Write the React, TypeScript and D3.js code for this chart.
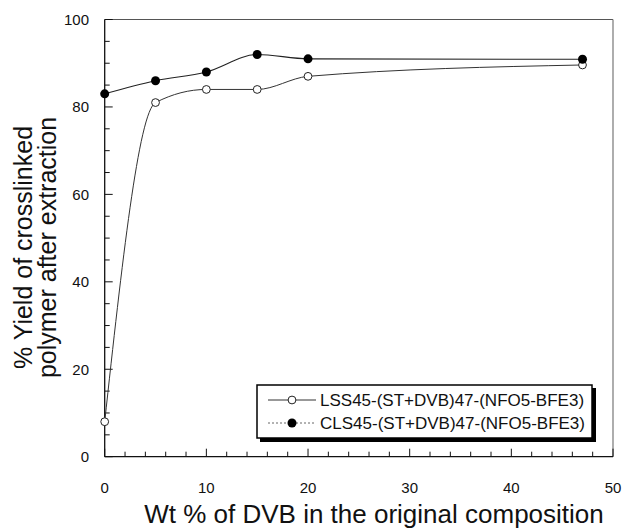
import React from "react";
import * as d3 from "d3";

const xLSS = [0, 5, 10, 15, 20, 47];
const yLSS = [8, 81, 84, 84, 87, 89.6];
const xCLS = [0, 5, 10, 15, 20, 47];
const yCLS = [83, 86, 88, 92, 91, 90.9];
const xTickLabels = [0, 10, 20, 30, 40, 50];
const yTickLabels = [0, 20, 40, 60, 80, 100];
const seriesNames = ["LSS45-(ST+DVB)47-(NFO5-BFE3)", "CLS45-(ST+DVB)47-(NFO5-BFE3)"];

const W = 624, H = 531;
const L = 104.7, R = 613, T = 19.5, B = 456.7;
const FONT = "'Liberation Sans', Arial, Helvetica, sans-serif";

export default function App() {
  const x = d3.scaleLinear().domain([0, 50]).range([L, R]);
  const y = d3.scaleLinear().domain([0, 100]).range([B, T]);
  const line = d3
    .line<[number, number]>()
    .x((d) => x(d[0]))
    .y((d) => y(d[1]))
    .curve(d3.curveMonotoneX);
  const lss: [number, number][] = xLSS.map((v, i) => [v, yLSS[i]]);
  const cls: [number, number][] = xCLS.map((v, i) => [v, yCLS[i]]);
  const xMinor = d3.range(0, 51, 2);
  const yMinor = d3.range(0, 101, 5);

  return (
    <svg
      width={W}
      height={H}
      style={{ position: "fixed", left: 0, top: 0, background: "#fff" }}
      fontFamily={FONT}
    >
      <rect x={0} y={0} width={W} height={H} fill="#fff" />
      {/* frame */}
      <line x1={L} x2={R} y1={T} y2={T} stroke="#555" strokeWidth={1} />
      <line x1={R} x2={R} y1={T} y2={B} stroke="#777" strokeWidth={1.2} />
      <line x1={L} x2={L} y1={T} y2={B} stroke="#111" strokeWidth={1.3} />
      <line x1={L} x2={R} y1={B} y2={B} stroke="#111" strokeWidth={1.3} />
      {/* x ticks */}
      {xMinor.map((v) => (
        <line
          key={"xt" + v}
          x1={x(v)}
          x2={x(v)}
          y1={B}
          y2={B - (v % 10 === 0 ? 8 : 5)}
          stroke="#111"
          strokeWidth={1}
        />
      ))}
      {xTickLabels.map((v) => (
        <text key={"xl" + v} x={x(v)} y={492.5} textAnchor="middle" fontSize={15} fill="#111">
          {v}
        </text>
      ))}
      {/* y ticks */}
      {yMinor.map((v) => (
        <line
          key={"yt" + v}
          x1={L}
          x2={L + (v % 20 === 0 ? 8 : 5)}
          y1={y(v)}
          y2={y(v)}
          stroke="#111"
          strokeWidth={1}
        />
      ))}
      {yTickLabels.map((v) => (
        <text key={"yl" + v} x={89} y={y(v) + 5.3} textAnchor="end" fontSize={15} fill="#111">
          {v}
        </text>
      ))}
      {/* axis titles */}
      <text x={374} y={523} textAnchor="middle" fontSize={26} fill="#111">
        Wt % of DVB in the original composition
      </text>
      <g transform="translate(0,247.5) rotate(-90)">
        <text x={0} y={31.5} textAnchor="middle" fontSize={25} fill="#111">
          % Yield of crosslinked
        </text>
        <text x={0} y={55.5} textAnchor="middle" fontSize={25} fill="#111">
          polymer after extraction
        </text>
      </g>
      {/* lines */}
      <path d={line(lss) || ""} fill="none" stroke="#333" strokeWidth={1} />
      <path d={line(cls) || ""} fill="none" stroke="#222" strokeWidth={1.1} />
      {/* markers */}
      {lss.map((d, i) => (
        <circle key={"m1" + i} cx={x(d[0])} cy={y(d[1])} r={3.9} fill="#fff" stroke="#222" strokeWidth={1} />
      ))}
      {cls.map((d, i) => (
        <circle key={"m2" + i} cx={x(d[0])} cy={y(d[1])} r={4.5} fill="#000" />
      ))}
      {/* legend */}
      <rect x={260} y={388} width={336} height={54} fill="#000" />
      <rect x={257} y={385} width={335} height={53} fill="#fff" stroke="#000" strokeWidth={1.5} />
      <line x1={268} x2={316} y1={400} y2={400} stroke="#333" strokeWidth={1} />
      <circle cx={292} cy={400} r={3.9} fill="#fff" stroke="#222" strokeWidth={1} />
      <text x={320} y={406} fontSize={17} fill="#111">{seriesNames[0]}</text>
      <line x1={268} x2={316} y1={423} y2={423} stroke="#666" strokeWidth={1} strokeDasharray="2,2" />
      <circle cx={292} cy={423} r={4.5} fill="#000" />
      <text x={320} y={429} fontSize={17} fill="#111">{seriesNames[1]}</text>
    </svg>
  );
}
